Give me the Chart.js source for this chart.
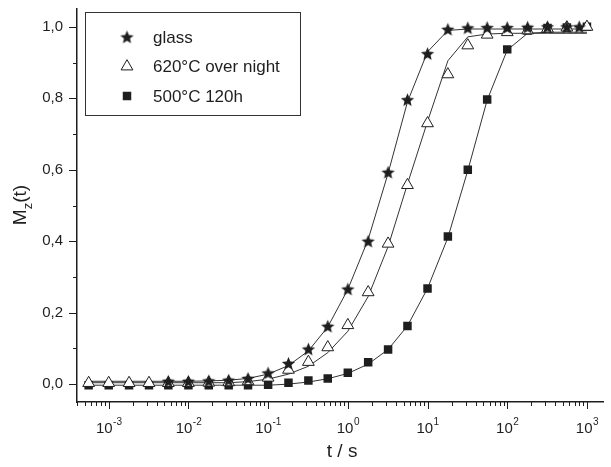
<!DOCTYPE html>
<html>
<head>
<meta charset="utf-8">
<title>Mz(t) relaxation</title>
<script src="https://cdn.jsdelivr.net/npm/chart.js@4.4.1/dist/chart.umd.min.js"></script>
<style>
  html, body { margin: 0; padding: 0; background: #fff; }
</style>
</head>
<body>
<canvas id="chart" width="611" height="467"></canvas>
<script>
// measurement times (s), quarter-decade steps
const times = [0.00056, 0.001, 0.0018, 0.0032, 0.0056, 0.01, 0.018, 0.032, 0.056, 0.1,
  0.18, 0.32, 0.56, 1, 1.8, 3.2, 5.6, 10, 18, 32, 56, 100, 180, 320, 560, 1000];

// glass starts later and its last point sits a bit before 10^3
const timesGlass = [0.0056, 0.01, 0.018, 0.032, 0.056, 0.1, 0.18, 0.32, 0.56, 1,
  1.8, 3.2, 5.6, 10, 18, 32, 56, 100, 180, 320, 560, 800];
const glass = [0.008, 0.008, 0.009, 0.011, 0.016, 0.031, 0.058, 0.098, 0.162, 0.266,
  0.40, 0.593, 0.796, 0.925, 0.993, 0.997, 0.998, 0.998, 0.999, 1.0, 1.0, 1.0];

const annealed620 = [0.003, 0.003, 0.003, 0.003, 0.003, 0.003, 0.004, 0.005, 0.008, 0.018,
  0.04, 0.062, 0.103, 0.165, 0.257, 0.393, 0.557, 0.73, 0.867, 0.948,
  0.978, 0.985, 0.99, 0.995, 0.998, 1.0];

const annealed500 = [-0.003, -0.003, -0.003, -0.003, -0.003, -0.003, -0.003, -0.003, -0.003, -0.002,
  0.004, 0.01, 0.016, 0.032, 0.061, 0.097, 0.163, 0.268, 0.413, 0.60,
  0.797, 0.937, 0.99, 0.997, 0.998, 1.0];

// fitted curves, sampled on the same time grid
const fitGlass = [0.008, 0.008, 0.008, 0.008, 0.008, 0.008, 0.009, 0.011, 0.016, 0.028,
  0.052, 0.093, 0.16, 0.265, 0.405, 0.59, 0.79, 0.93, 0.99, 0.994,
  0.994, 0.994, 0.994, 0.994, 0.994, 0.994];
const fit620 = [0.004, 0.004, 0.004, 0.004, 0.004, 0.004, 0.004, 0.004, 0.007, 0.014,
  0.028, 0.05, 0.088, 0.148, 0.245, 0.385, 0.56, 0.735, 0.905, 0.972,
  0.98, 0.982, 0.982, 0.982, 0.982, 0.982];
const fit500 = [-0.003, -0.003, -0.003, -0.003, -0.003, -0.003, -0.003, -0.003, -0.003, -0.003,
  0.0, 0.006, 0.015, 0.03, 0.056, 0.097, 0.163, 0.268, 0.41, 0.598,
  0.795, 0.935, 0.982, 0.985, 0.985, 0.985];

const seriesNames = ['glass', '620°C over night', '500°C 120h'];

const xDecades = [0.001, 0.01, 0.1, 1, 10, 100, 1000];
const xExponents = ['-3', '-2', '-1', '0', '1', '2', '3'];
const yTicks = [0, 0.2, 0.4, 0.6, 0.8, 1.0];
const yTickLabels = ['0,0', '0,2', '0,4', '0,6', '0,8', '1,0'];
const yMinor = [0.1, 0.3, 0.5, 0.7, 0.9];

const INK = '#1e1e1e';
const FONT = 'Liberation Sans, Arial, sans-serif';

function xy(xs, ys) {
  return xs.map((t, i) => ({ x: t, y: ys[i] }));
}

// filled five-point star marker
function makeStar(r) {
  const s = 15;
  const c = document.createElement('canvas');
  c.width = s; c.height = s;
  const g = c.getContext('2d');
  g.fillStyle = INK;
  g.beginPath();
  for (let i = 0; i < 10; i++) {
    const rr = i % 2 ? r * 0.45 : r;
    const a = -Math.PI / 2 + i * Math.PI / 5;
    g.lineTo(s / 2 + rr * Math.cos(a), s / 2 + 0.6 + rr * Math.sin(a));
  }
  g.closePath();
  g.fill();
  return c;
}
const starImg = makeStar(7);

const markerSets = [
  { label: seriesNames[0], data: xy(timesGlass, glass), pointStyle: starImg, pointRadius: 6,
    backgroundColor: INK, borderColor: INK, pointBorderWidth: 0 },
  { label: seriesNames[1], data: xy(times, annealed620), pointStyle: 'triangle', pointRadius: 6.8,
    backgroundColor: '#fff', borderColor: INK, pointBorderWidth: 1 },
  { label: seriesNames[2], data: xy(times, annealed500), pointStyle: 'rect', pointRadius: 6,
    backgroundColor: INK, borderColor: INK, pointBorderWidth: 0 }
].map(d => Object.assign(d, { showLine: false, pointHoverRadius: 0, isMarker: true }));

const fitSets = [fitGlass, fit620, fit500].map(f => ({
  label: 'fit', data: xy(times, f), showLine: true, pointRadius: 0,
  borderColor: '#333', borderWidth: 1, tension: 0, fill: false
}));

// axis ticks, tick labels, titles and boxed legend
const decorPlugin = {
  id: 'decor',
  afterDraw(chart) {
    const { ctx, chartArea: a, scales: { x, y } } = chart;
    ctx.save();
    ctx.strokeStyle = INK;
    ctx.fillStyle = INK;
    ctx.lineWidth = 1;

    // x ticks: decades long, 2..9 short
    for (let d = -4; d <= 3; d++) {
      for (let m = 1; m <= 9; m++) {
        const v = m * Math.pow(10, d);
        if (v < x.min || v > x.max) continue;
        const px = Math.round(x.getPixelForValue(v)) + 0.5;
        const len = m === 1 ? 7 : 4;
        ctx.beginPath();
        ctx.moveTo(px, a.bottom);
        ctx.lineTo(px, a.bottom + len);
        ctx.stroke();
      }
    }
    // y ticks
    const yt = (v, len) => {
      const py = Math.round(y.getPixelForValue(v)) + 0.5;
      ctx.beginPath();
      ctx.moveTo(a.left, py);
      ctx.lineTo(a.left - len, py);
      ctx.stroke();
    };
    yTicks.forEach(v => yt(v, 8));
    yMinor.forEach(v => yt(v, 4));

    // x tick labels 10^n
    ctx.textBaseline = 'alphabetic';
    xDecades.forEach((v, i) => {
      const px = x.getPixelForValue(v);
      ctx.font = '15px ' + FONT;
      const wb = ctx.measureText('10').width;
      ctx.font = '10px ' + FONT;
      const we = ctx.measureText(xExponents[i]).width;
      const x0 = px - (wb + we) / 2;
      ctx.textAlign = 'left';
      ctx.font = '15px ' + FONT;
      ctx.fillText('10', x0, 433);
      ctx.font = '10px ' + FONT;
      ctx.fillText(xExponents[i], x0 + wb + 0.5, 425);
    });

    // x title
    ctx.font = '19px ' + FONT;
    ctx.textAlign = 'center';
    ctx.fillText('t / s', (a.left + a.right) / 2 + 2, 457);

    // y title M_z(t), rotated
    ctx.save();
    ctx.translate(26, 205);
    ctx.rotate(-Math.PI / 2);
    ctx.textAlign = 'left';
    ctx.font = '19px ' + FONT;
    const wM = ctx.measureText('M').width;
    const wT = ctx.measureText('(t)').width;
    ctx.font = '13px ' + FONT;
    const wZ = ctx.measureText('z').width;
    let cx = -(wM + wZ + wT) / 2;
    ctx.font = '19px ' + FONT;
    ctx.fillText('M', cx, 0);
    cx += wM;
    ctx.font = '13px ' + FONT;
    ctx.fillText('z', cx, 6);
    cx += wZ;
    ctx.font = '19px ' + FONT;
    ctx.fillText('(t)', cx, 0);
    ctx.restore();

    // legend box
    ctx.strokeStyle = '#333';
    ctx.lineWidth = 1;
    ctx.strokeRect(85.5, 12.5, 215, 103);
    ctx.font = '17px ' + FONT;
    ctx.textAlign = 'left';
    ctx.textBaseline = 'middle';
    chart.data.datasets.filter(d => d.isMarker).forEach((d, i) => {
      const ly = 37 + i * 29.5;
      ctx.fillStyle = d.backgroundColor;
      ctx.strokeStyle = d.borderColor;
      ctx.lineWidth = d.pointBorderWidth;
      Chart.helpers.drawPoint(ctx, {
        pointStyle: d.pointStyle, radius: d.pointRadius, rotation: 0, borderWidth: d.pointBorderWidth
      }, 127, ly);
      ctx.fillStyle = INK;
      ctx.fillText(d.label, 153, ly + 1);
    });
    ctx.restore();
  }
};

new Chart(document.getElementById('chart'), {
  type: 'scatter',
  data: { datasets: markerSets.concat(fitSets) },
  options: {
    responsive: false,
    devicePixelRatio: 1,
    animation: false,
    layout: { padding: { top: 9, right: 6, left: 0, bottom: 0 } },
    plugins: { legend: { display: false }, tooltip: { enabled: false } },
    scales: {
      x: {
        type: 'logarithmic',
        min: 0.0004,
        max: 1600,
        grid: { display: false, drawTicks: false },
        border: { display: true, color: INK, width: 1.5 },
        ticks: { display: false },
        afterFit(s) { s.height = 65; s.paddingLeft = 0; s.paddingRight = 0; }
      },
      y: {
        min: -0.05,
        max: 1.05,
        grid: { display: false, drawTicks: false },
        border: { display: true, color: INK, width: 1.5 },
        afterBuildTicks(s) { s.ticks = yTicks.map(v => ({ value: v })); },
        ticks: {
          color: INK,
          font: { family: FONT, size: 15 },
          padding: 14,
          callback: (v, i) => yTickLabels[i]
        },
        afterFit(s) { s.width = 77; s.paddingTop = 0; s.paddingBottom = 0; }
      }
    }
  },
  plugins: [decorPlugin]
});
</script>
</body>
</html>
